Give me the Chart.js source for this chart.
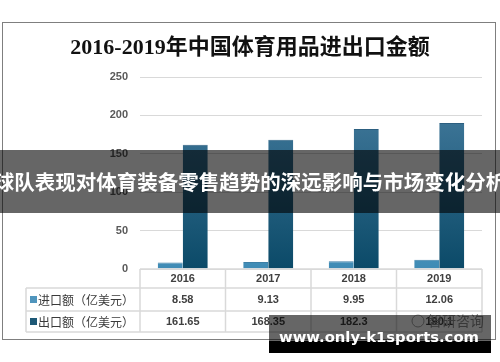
<!DOCTYPE html>
<html><head><meta charset="utf-8">
<script src="https://cdn.jsdelivr.net/npm/chart.js@4/dist/chart.umd.min.js"></script>
<style>html,body{margin:0;padding:0;background:#fff;}canvas{display:block;}</style>
</head><body>
<canvas id="c" width="500" height="362"></canvas>
<script>
const chartTitle = '2016-2019年中国体育用品进出口金额';
const years = ['2016', '2017', '2018', '2019'];
const importLabel = '进口额（亿美元）';
const exportLabel = '出口额（亿美元）';
const importValues = [8.58, 9.13, 9.95, 12.06];
const exportValues = [161.65, 168.35, 182.3, 190.1];
const importText = ['8.58', '9.13', '9.95', '12.06'];
const exportText = ['161.65', '168.35', '182.3', '190.1'];
const yTicks = [0, 50, 100, 150, 200, 250];
const bannerText = '球队表现对体育装备零售趋势的深远影响与市场变化分析';
const watermarkText = 'www.only-k1sports.com';
const logoText = '智研咨询';

const CJK = '"Noto Sans CJK SC", "Noto Sans", sans-serif';

function grad(ctx, top, bottom) {
  const chart = ctx.chart, ca = chart.chartArea;
  if (!ca) return bottom;
  const g = chart.ctx.createLinearGradient(0, ca.top, 0, ca.bottom);
  g.addColorStop(0, top);
  g.addColorStop(1, bottom);
  return g;
}

const extras = {
  id: 'extras',
  afterDraw(chart) {
    const ctx = chart.ctx, ca = chart.chartArea, xs = chart.scales.x;
    const half = (xs.getPixelForValue(1) - xs.getPixelForValue(0)) / 2;
    const colL = 26;
    const t0 = ca.bottom, r1 = t0 + 19, r2 = r1 + 23, r3 = r2 + 21;
    ctx.save();
    // title
    ctx.fillStyle = '#111';
    ctx.font = 'bold 22px "Liberation Serif", ' + CJK;
    ctx.textAlign = 'center';
    ctx.textBaseline = 'middle';
    ctx.fillText(chartTitle, 250, 48);
    // frame
    ctx.strokeStyle = '#7f7f7f';
    ctx.lineWidth = 1;
    ctx.strokeRect(2.5, 22.5, 493, 317);
    // table
    ctx.strokeStyle = '#d9d9d9';
    ctx.lineWidth = 1.5;
    const line = (a, b, c, d) => { ctx.beginPath(); ctx.moveTo(a, b); ctx.lineTo(c, d); ctx.stroke(); };
    line(ca.left, t0, ca.right, t0);
    line(colL, r1, ca.right, r1);
    line(colL, r2, ca.right, r2);
    line(colL, r3, ca.right, r3);
    line(colL, r1, colL, r3);
    years.forEach((y, i) => { const x = xs.getPixelForValue(i) - half; line(x, t0, x, r3); });
    line(ca.right, t0, ca.right, r3);
    ctx.fillStyle = '#404040';
    ctx.font = 'bold 11px "Liberation Sans", sans-serif';
    years.forEach((y, i) => {
      const x = xs.getPixelForValue(i);
      ctx.fillText(y, x, (t0 + r1) / 2 + 0.5);
      ctx.fillText(importText[i], x, (r1 + r2) / 2 + 0.5);
      ctx.fillText(exportText[i], x, (r2 + r3) / 2 + 0.5);
    });
    ctx.textAlign = 'left';
    ctx.fillStyle = '#4f95bd';
    ctx.fillRect(30, (r1 + r2) / 2 - 3.5, 7, 7);
    ctx.fillStyle = '#1d5876';
    ctx.fillRect(30, (r2 + r3) / 2 - 3.5, 7, 7);
    ctx.fillStyle = '#3a3a3a';
    ctx.font = '12px ' + CJK;
    ctx.fillText(importLabel, 38, (r1 + r2) / 2 + 0.5);
    ctx.fillText(exportLabel, 38, (r2 + r3) / 2 + 0.5);
    // logo watermark
    ctx.fillStyle = '#8c8c8c';
    ctx.font = '14px ' + CJK;
    ctx.textAlign = 'center';
    ctx.fillText(logoText, 456, 321);
    ctx.strokeStyle = '#a0a0a0';
    ctx.lineWidth = 1;
    ctx.beginPath(); ctx.arc(418, 321, 6, 0, Math.PI * 2); ctx.stroke();
    // banner
    ctx.fillStyle = 'rgba(0,0,0,0.6)';
    ctx.fillRect(0, 150, 500, 63);
    ctx.fillStyle = '#fff';
    ctx.font = 'bold 20.5px ' + CJK;
    ctx.textAlign = 'center';
    ctx.fillText(bannerText, 250, 182);
    // site watermark
    ctx.fillStyle = 'rgba(0,0,0,0.6)';
    ctx.fillRect(269, 315, 222, 26);
    ctx.fillStyle = '#000';
    ctx.fillRect(269, 341, 222, 12);
    ctx.font = 'bold 10px "DejaVu Sans", sans-serif';
    const w = ctx.measureText(watermarkText).width;
    ctx.font = 'bold ' + (10 * 200 / w).toFixed(2) + 'px "DejaVu Sans", sans-serif';
    ctx.fillStyle = '#fff';
    ctx.textBaseline = 'alphabetic';
    ctx.fillText(watermarkText, 379, 342);
    ctx.restore();
  }
};

new Chart(document.getElementById('c'), {
  type: 'bar',
  data: {
    labels: years,
    datasets: [
      {
        label: importLabel,
        data: importValues,
        backgroundColor: (c) => grad(c, '#8cc4e0', '#3f8bb5'),
        borderColor: '#3d7fa6',
        borderWidth: { top: 1, left: 0, right: 0, bottom: 0 },
        categoryPercentage: 0.585,
        barPercentage: 1.0
      },
      {
        label: exportLabel,
        data: exportValues,
        backgroundColor: (c) => grad(c, '#4a80a3', '#0b4a68'),
        borderColor: '#2c5f80',
        borderWidth: { top: 1, left: 0, right: 0, bottom: 0 },
        categoryPercentage: 0.585,
        barPercentage: 1.0
      }
    ]
  },
  options: {
    responsive: false,
    animation: false,
    layout: { padding: { left: 0, right: 18, top: 77, bottom: 93 } },
    plugins: { legend: { display: false }, title: { display: false }, tooltip: { enabled: false } },
    scales: {
      x: { display: false },
      y: {
        min: 0, max: 250,
        afterFit: (s) => { s.width = 140; },
        afterBuildTicks: (s) => { s.ticks = yTicks.map(v => ({ value: v })); },
        border: { display: false },
        grid: { color: '#d9d9d9', drawTicks: false, lineWidth: 1 },
        ticks: { padding: 12, color: '#595959', font: { family: '"Liberation Sans", sans-serif', size: 11, weight: 'bold' } }
      }
    }
  },
  plugins: [extras]
});
</script>
</body></html>
